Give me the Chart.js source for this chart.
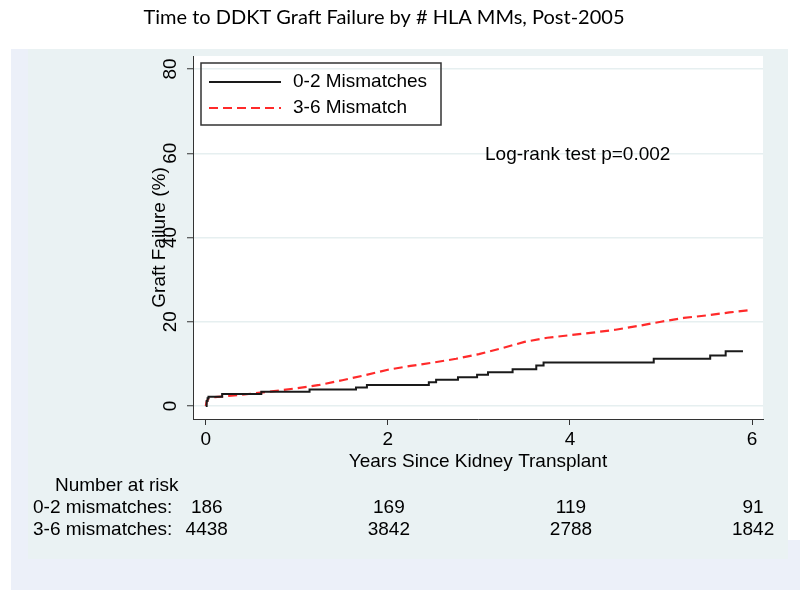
<!DOCTYPE html>
<html>
<head>
<meta charset="utf-8">
<script src="https://cdn.jsdelivr.net/npm/chart.js@4/dist/chart.umd.min.js"></script>
<style>
  html, body { margin: 0; padding: 0; background: #ffffff; }
  #wrap { position: relative; width: 800px; height: 599px; }
</style>
</head>
<body>
<div id="wrap"><canvas id="km" width="800" height="599"></canvas></div>
<script>
// axis ticks
const xTicks = [0, 2, 4, 6];
const yTicks = [0, 20, 40, 60, 80];

// 0-2 mismatches, KM failure (%)
const lowYears = [0, 0.01, 0.02, 0.03, 0.18, 0.61, 1.14, 1.65, 1.77, 2.45, 2.53, 2.77, 2.98, 3.10, 3.37, 3.63, 3.71, 4.92, 5.54, 5.71, 5.90];
const lowFail = [0, 1.2, 1.8, 2.2, 2.85, 3.4, 3.9, 4.4, 5.0, 5.6, 6.2, 6.8, 7.4, 8.0, 8.7, 9.6, 10.3, 11.2, 12.0, 13.0, 13.0];

// 3-6 mismatches, KM failure (%)
const highYears = [0, 0.01, 0.03, 0.1, 0.25, 0.5, 0.75, 1.0, 1.25, 1.5, 1.75, 2.0, 2.25, 2.5, 2.75, 3.0, 3.25, 3.5, 3.75, 4.0, 4.25, 4.5, 4.75, 5.0, 5.25, 5.5, 5.75, 6.0];
const highFail = [0, 1.0, 1.8, 2.1, 2.4, 2.9, 3.5, 4.2, 5.0, 6.1, 7.3, 8.6, 9.5, 10.3, 11.2, 12.3, 13.7, 15.2, 16.2, 16.8, 17.4, 18.1, 19.0, 20.0, 20.9, 21.5, 22.2, 22.8];

// number at risk table
const riskTimes = [0, 2, 4, 6];
const riskLabels = ["0-2 mismatches:", "3-6 mismatches:"];
const riskLow = [186, 169, 119, 91];
const riskHigh = [4438, 3842, 2788, 1842];

const seriesNames = ["0-2 Mismatches", "3-6 Mismatch"];

const FONT = "'Liberation Sans', Arial, sans-serif";

function toPoints(xs, ys) {
  return xs.map((x, i) => ({ x: x, y: ys[i] }));
}

const decorations = {
  id: "decorations",
  beforeDraw(chart) {
    const ctx = chart.ctx;
    const a = chart.chartArea;
    ctx.save();
    // slide background behind the graph
    ctx.fillStyle = "#ecf0f9";
    ctx.fillRect(11, 49, 17, 491);
    ctx.fillRect(11, 540, 789, 50);
    // graph region
    ctx.fillStyle = "#eaf2f3";
    ctx.fillRect(28, 49, 760, 510);
    ctx.fillStyle = "#ffffff";
    ctx.fillRect(a.left, a.top, a.right - a.left, a.bottom - a.top);
    ctx.restore();
  },
  afterDraw(chart) {
    const ctx = chart.ctx;
    const a = chart.chartArea;
    const xs = chart.scales.x;
    const ys = chart.scales.y;
    ctx.save();
    ctx.fillStyle = "#000000";

    // title
    ctx.font = "20px Lato, 'Open Sans', sans-serif";
    ctx.textAlign = "center";
    ctx.textBaseline = "middle";
    ctx.fillText("Time to DDKT Graft Failure by # HLA MMs, Post-2005", 384, 18);

    // y tick labels, vertical
    ctx.font = "19px " + FONT;
    yTicks.forEach((v) => {
      ctx.save();
      ctx.translate(171, ys.getPixelForValue(v));
      ctx.rotate(-Math.PI / 2);
      ctx.fillText(String(v), 0, 0);
      ctx.restore();
    });

    // y axis title
    ctx.save();
    ctx.translate(160, (a.top + a.bottom) / 2);
    ctx.rotate(-Math.PI / 2);
    ctx.fillText("Graft Failure (%)", 0, 0);
    ctx.restore();

    // x axis title
    ctx.fillText("Years Since Kidney Transplant", (a.left + a.right) / 2, 462);

    // legend
    ctx.strokeStyle = "#333333";
    ctx.lineWidth = 1.5;
    ctx.strokeRect(201, 63, 240, 62);
    ctx.lineWidth = 2;
    ctx.strokeStyle = "#1a1a1a";
    ctx.beginPath();
    ctx.moveTo(209, 82);
    ctx.lineTo(281, 82);
    ctx.stroke();
    ctx.strokeStyle = "#ff2a2a";
    ctx.setLineDash([9, 5]);
    ctx.beginPath();
    ctx.moveTo(209, 108);
    ctx.lineTo(281, 108);
    ctx.stroke();
    ctx.setLineDash([]);
    ctx.textAlign = "left";
    ctx.fillText(seriesNames[0], 293, 82);
    ctx.fillText(seriesNames[1], 293, 108);

    // annotation
    ctx.fillText("Log-rank test p=0.002", 485, 155);

    // number at risk
    ctx.fillText("Number at risk", 55, 486);
    ctx.fillText(riskLabels[0], 33, 508);
    ctx.fillText(riskLabels[1], 33, 530);
    ctx.textAlign = "center";
    riskTimes.forEach((t, i) => {
      const px = xs.getPixelForValue(t);
      ctx.fillText(String(riskLow[i]), px + 1, 508);
      ctx.fillText(String(riskHigh[i]), px + 1, 530);
    });
    ctx.restore();
  },
};

new Chart(document.getElementById("km"), {
  type: "line",
  data: {
    datasets: [
      {
        label: seriesNames[0],
        data: toPoints(lowYears, lowFail),
        borderColor: "#1a1a1a",
        borderWidth: 2,
        stepped: "before",
        pointRadius: 0,
        fill: false,
      },
      {
        label: seriesNames[1],
        data: toPoints(highYears, highFail),
        borderColor: "#ff2a2a",
        borderWidth: 2.2,
        borderDash: [9, 5],
        tension: 0,
        pointRadius: 0,
        fill: false,
      },
    ],
  },
  options: {
    responsive: false,
    animation: false,
    layout: { padding: { left: 0, top: 56, right: 37, bottom: 140 } },
    plugins: {
      legend: { display: false },
      tooltip: { enabled: false },
      title: { display: false },
    },
    scales: {
      x: {
        type: "linear",
        min: -0.14,
        max: 6.12,
        afterBuildTicks: (axis) => {
          axis.ticks = xTicks.map((v) => ({ value: v }));
        },
        afterFit: (axis) => {
          axis.height = 40;
        },
        grid: {
          drawOnChartArea: false,
          drawTicks: true,
          tickLength: 6,
          tickColor: "#333333",
          tickWidth: 1,
        },
        border: { color: "#333333", width: 1 },
        ticks: {
          color: "#000000",
          padding: 3,
          maxRotation: 0,
          font: { family: FONT, size: 19 },
        },
      },
      y: {
        type: "linear",
        min: -3.1,
        max: 83.1,
        afterBuildTicks: (axis) => {
          axis.ticks = yTicks.map((v) => ({ value: v }));
        },
        afterFit: (axis) => {
          axis.width = 193;
        },
        grid: {
          color: "#e6eff0",
          lineWidth: 1.5,
          drawTicks: true,
          tickLength: 6,
          tickColor: "#333333",
          tickWidth: 1,
        },
        border: { color: "#333333", width: 1 },
        ticks: { display: false },
      },
    },
  },
  plugins: [decorations],
});
</script>
</body>
</html>
